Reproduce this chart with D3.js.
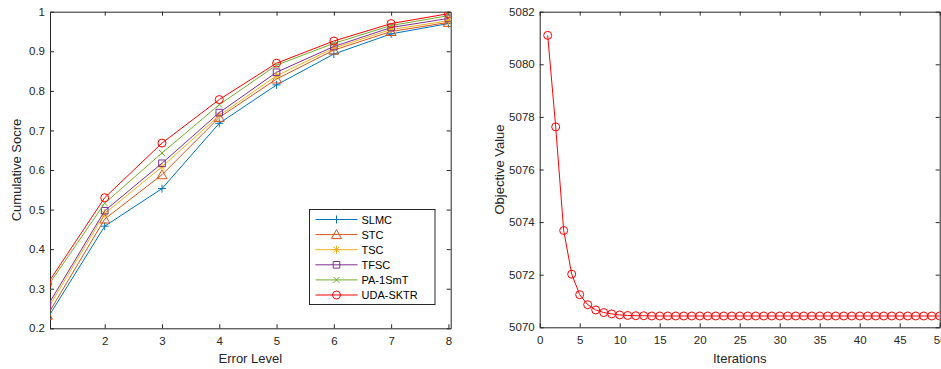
<!DOCTYPE html>
<html>
<head>
<meta charset="utf-8">
<script src="https://cdn.jsdelivr.net/npm/d3@7"></script>
<style>
  body { margin: 0; background: #fff; }
  svg { display: block; font-family: "Liberation Sans", Arial, sans-serif; }
  .tick text { fill: #262626; font-size: 11.5px; }
  .tick line, .domain { stroke: #262626; }
</style>
</head>
<body>
<svg id="chart"></svg>
<script>
// left panel: cumulative score per error level
const errorLevels = [1, 2, 3, 4, 5, 6, 7, 8];
const errorTicks = [2, 3, 4, 5, 6, 7, 8];
const scoreTicks = [0.2, 0.3, 0.4, 0.5, 0.6, 0.7, 0.8, 0.9, 1];
const methodNames = ['SLMC', 'STC', 'TSC', 'TFSC', 'PA-1SmT', 'UDA-SKTR'];
const slmcScores = [0.225, 0.458, 0.553, 0.718, 0.815, 0.893, 0.944, 0.970];
const stcScores = [0.233, 0.476, 0.588, 0.733, 0.830, 0.903, 0.950, 0.973];
const tscScores = [0.248, 0.490, 0.608, 0.738, 0.838, 0.908, 0.955, 0.977];
const tfscScores = [0.256, 0.497, 0.617, 0.745, 0.847, 0.912, 0.960, 0.983];
const paScores = [0.305, 0.516, 0.643, 0.765, 0.865, 0.920, 0.965, 0.990];
const udaScores = [0.312, 0.530, 0.668, 0.778, 0.870, 0.926, 0.970, 0.995];

// right panel: objective value per iteration
const iterations = [1, 2, 3, 4, 5, 6, 7, 8, 9, 10, 11, 12, 13, 14, 15, 16, 17, 18, 19, 20,
  21, 22, 23, 24, 25, 26, 27, 28, 29, 30, 31, 32, 33, 34, 35, 36, 37, 38, 39, 40,
  41, 42, 43, 44, 45, 46, 47, 48, 49, 50];
const objectiveValues = [5081.10, 5077.62, 5073.68, 5072.02, 5071.24, 5070.86, 5070.66, 5070.56,
  5070.51, 5070.47, 5070.45, 5070.44, 5070.44, 5070.43, 5070.43, 5070.43, 5070.43, 5070.43,
  5070.43, 5070.43, 5070.43, 5070.43, 5070.43, 5070.43, 5070.43, 5070.43, 5070.43, 5070.43,
  5070.43, 5070.43, 5070.43, 5070.43, 5070.43, 5070.43, 5070.43, 5070.43, 5070.43, 5070.43,
  5070.43, 5070.43, 5070.43, 5070.43, 5070.43, 5070.43, 5070.43, 5070.43, 5070.43, 5070.43,
  5070.43, 5070.43];
const iterTicks = [0, 5, 10, 15, 20, 25, 30, 35, 40, 45, 50];
const objectiveTicks = [5070, 5072, 5074, 5076, 5078, 5080, 5082];

const methodSeries = [
  {name: methodNames[0], values: slmcScores, color: '#0072BD', marker: 'plus'},
  {name: methodNames[1], values: stcScores, color: '#D95319', marker: 'triangle'},
  {name: methodNames[2], values: tscScores, color: '#EDB120', marker: 'asterisk'},
  {name: methodNames[3], values: tfscScores, color: '#7E2F8E', marker: 'square'},
  {name: methodNames[4], values: paScores, color: '#77AC30', marker: 'cross'},
  {name: methodNames[5], values: udaScores, color: '#FF0000', marker: 'circle'}
];

function markerPath(type) {
  switch (type) {
    case 'plus': return 'M-4,0H4M0,-4V4';
    case 'cross': return 'M-3,-3L3,3M-3,3L3,-3';
    case 'asterisk': return 'M-4,0H4M0,-4V4M-2.8,-2.8L2.8,2.8M-2.8,2.8L2.8,-2.8';
    case 'triangle': return 'M0,-5L5,4L-5,4Z';
    case 'square': return 'M-3.3,-3.3H3.3V3.3H-3.3Z';
    default: return 'M4,0A4,4 0 1,1 -4,0A4,4 0 1,1 4,0Z';
  }
}

class LinePanel {
  constructor(_config) {
    this.config = {
      svg: _config.svg,
      id: _config.id,
      left: _config.left,
      top: _config.top,
      width: _config.width,
      height: _config.height,
      xDomain: _config.xDomain,
      yDomain: _config.yDomain,
      xTicks: _config.xTicks,
      yTicks: _config.yTicks,
      xFormat: _config.xFormat,
      yFormat: _config.yFormat,
      xLabel: _config.xLabel,
      yLabel: _config.yLabel,
      yLabelX: _config.yLabelX
    };
  }

  render(series) {
    let vis = this;
    const c = vis.config;

    vis.x = d3.scaleLinear().domain(c.xDomain).range([0, c.width]);
    vis.y = d3.scaleLinear().domain(c.yDomain).range([c.height, 0]);

    vis.chart = c.svg.append('g')
        .attr('transform', `translate(${c.left}, ${c.top})`);

    vis.chart.append('clipPath').attr('id', c.id)
      .append('rect').attr('width', c.width).attr('height', c.height);

    // box axes with inward ticks
    vis.chart.append('g')
        .attr('transform', `translate(0, ${c.height})`)
        .call(d3.axisBottom(vis.x).tickValues(c.xTicks).tickFormat(c.xFormat).tickSize(-4).tickPadding(9).tickSizeOuter(0));
    vis.chart.append('g')
        .call(d3.axisTop(vis.x).tickValues(c.xTicks).tickSize(-4).tickFormat('').tickSizeOuter(0));
    vis.chart.append('g')
        .call(d3.axisLeft(vis.y).tickValues(c.yTicks).tickFormat(c.yFormat).tickSize(-4).tickPadding(5).tickSizeOuter(0));
    vis.chart.append('g')
        .attr('transform', `translate(${c.width}, 0)`)
        .call(d3.axisRight(vis.y).tickValues(c.yTicks).tickSize(-4).tickFormat('').tickSizeOuter(0));

    const line = d3.line().x(d => vis.x(d[0])).y(d => vis.y(d[1]));

    const plot = vis.chart.append('g').attr('clip-path', `url(#${c.id})`);
    series.forEach(s => {
      const pts = s.xs.map((xv, i) => [xv, s.values[i]]);
      plot.append('path')
          .attr('d', line(pts))
          .attr('fill', 'none')
          .attr('stroke', s.color)
          .attr('stroke-width', 1);
      plot.selectAll(null)
          .data(pts)
          .enter().append('path')
          .attr('transform', d => `translate(${vis.x(d[0])}, ${vis.y(d[1])})`)
          .attr('d', markerPath(s.marker))
          .attr('fill', 'none')
          .attr('stroke', s.color)
          .attr('stroke-width', 1);
    });

    vis.chart.append('text')
        .attr('x', c.width / 2)
        .attr('y', 363 - c.top)
        .attr('text-anchor', 'middle')
        .attr('font-size', 13)
        .attr('fill', '#262626')
        .text(c.xLabel);

    vis.chart.append('text')
        .attr('transform', `translate(${c.yLabelX - c.left}, ${c.height / 2}) rotate(-90)`)
        .attr('text-anchor', 'middle')
        .attr('font-size', 13)
        .attr('fill', '#262626')
        .text(c.yLabel);
  }

  legend(series, box) {
    let vis = this;
    const g = vis.chart.append('g')
        .attr('transform', `translate(${box.x - vis.config.left}, ${box.y - vis.config.top})`);

    g.append('rect')
        .attr('width', box.w)
        .attr('height', box.h)
        .attr('fill', '#fff')
        .attr('stroke', '#262626')
        .attr('stroke-width', 1);

    series.forEach((s, i) => {
      const ry = 10 + i * 15.1;
      g.append('line')
          .attr('x1', 6).attr('x2', 48)
          .attr('y1', ry).attr('y2', ry)
          .attr('stroke', s.color);
      g.append('path')
          .attr('transform', `translate(27, ${ry})`)
          .attr('d', markerPath(s.marker))
          .attr('fill', 'none')
          .attr('stroke', s.color);
      g.append('text')
          .attr('x', 52)
          .attr('y', ry + 4)
          .attr('font-size', 11)
          .attr('fill', '#000')
          .text(s.name);
    });
  }
}

const svg = d3.select('#chart').attr('width', 941).attr('height', 369);

const leftPanel = new LinePanel({
  svg: svg, id: 'clipLeft',
  left: 50, top: 11.7, width: 400.7, height: 316.6,
  xDomain: [1.045, 8.04], yDomain: [0.2, 1],
  xTicks: errorTicks, yTicks: scoreTicks,
  xFormat: d3.format('d'),
  yFormat: d => String(+d.toFixed(1)),
  xLabel: 'Error Level', yLabel: 'Cumulative Socre', yLabelX: 20.5
});
leftPanel.render(methodSeries.map(s => Object.assign({xs: errorLevels}, s)));
leftPanel.legend(methodSeries, {x: 309.5, y: 209.5, w: 125.5, h: 95});

const rightPanel = new LinePanel({
  svg: svg, id: 'clipRight',
  left: 539.7, top: 11.7, width: 400, height: 315.6,
  xDomain: [0, 50], yDomain: [5070, 5082],
  xTicks: iterTicks, yTicks: objectiveTicks,
  xFormat: d3.format('d'),
  yFormat: d3.format('d'),
  xLabel: 'Iterations', yLabel: 'Objective Value', yLabelX: 503.5
});
rightPanel.render([{xs: iterations, values: objectiveValues, color: '#FF0000', marker: 'circle'}]);
</script>
</body>
</html>
